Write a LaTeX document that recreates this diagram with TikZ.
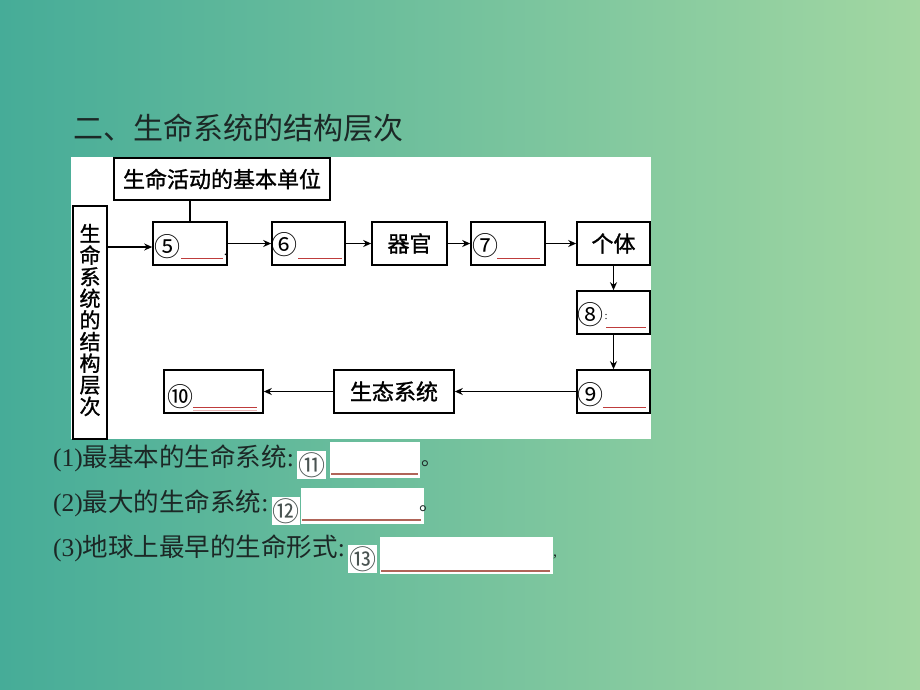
\documentclass[tikz,border=0pt]{standalone}
\usepackage{fontspec}
\newfontfamily\cjk{Noto Sans CJK SC}
\newfontfamily\cjkb{Noto Sans CJK SC}[FakeBold=1.2]
\newfontfamily\serifnum{Liberation Serif}
\usetikzlibrary{arrows.meta,calc}
\definecolor{bgleft}{RGB}{70,172,152}
\definecolor{bgright}{RGB}{162,215,162}
\definecolor{ink}{RGB}{28,40,38}
\definecolor{blankred}{RGB}{190,60,60}
\definecolor{blankbrown}{RGB}{176,100,88}
\tikzset{
  box/.style={draw=black, line width=1.6pt, fill=white, minimum height=43pt, inner sep=0pt,
    font=\cjkb\fontsize{22}{22}\selectfont},
  conn/.style={line width=1.9pt, -{Stealth[length=8pt,width=7pt]}},
  circnum/.style={anchor=west, inner sep=0pt, font=\cjk\fontsize{26}{26}\selectfont},
  uline/.style={blankred, line width=0.8pt},
  qtext/.style={anchor=west, inner sep=0pt, text=ink, font=\cjk\fontsize{25.5}{25.5}\selectfont},
  bline/.style={blankbrown, line width=1.2pt}
}
\begin{document}
\begin{tikzpicture}[x=1pt,y=-1pt]
\useasboundingbox (0,0) rectangle (920,689);
\shade[left color=bgleft, right color=bgright] (0,0) rectangle (920,689);
% title
\node[anchor=west, inner sep=0pt, text=ink, font=\cjk\fontsize{30}{30}\selectfont] (title) at (73,128) {二、生命系统的结构层次};
% white panel
\fill[white] (71,157) rectangle (651,439);
% boxes
\node[box, minimum width=216pt, minimum height=42pt] (unit) at (222,179) {生命活动的基本单位};
\node[box, minimum width=34pt, minimum height=233pt] (vert) at (90,322.5) {};
\node[align=center, inner sep=0pt, font=\cjkb\fontsize{21}{21.6}\selectfont] (verttext) at (90,320) {生\\命\\系\\统\\的\\结\\构\\层\\次};
\node[box, minimum width=74pt] (b5) at (190,243.5) {};
\node[box, minimum width=73pt] (b6) at (308.5,243.5) {};
\node[box, minimum width=75pt] (qg) at (409.5,243.5) {器官};
\node[box, minimum width=74pt] (b7) at (508,243.5) {};
\node[box, minimum width=73pt] (gt) at (613.5,243.5) {个体};
\node[box, minimum width=73pt] (b8) at (613.5,312.5) {};
\node[box, minimum width=73pt] (b9) at (613.5,391.5) {};
\node[box, minimum width=120pt] (st) at (394,391.5) {生态系统};
\node[box, minimum width=99pt] (b10) at (213.5,391.5) {};
% circled numbers
\node[circnum] (n5) at (154,247) {⑤};
\node[circnum] (n6) at (271,245) {⑥};
\node[circnum] (n7) at (472,246) {⑦};
\node[circnum] (n8) at (577,315) {⑧};
\node[circnum] (n9) at (577,395) {⑨};
\node[circnum] (n10) at (167,397) {⑩};
% blanks in boxes
\draw[uline] (181,258) -- (223,258);
\node[inner sep=0pt, font=\serifnum\fontsize{14}{14}\selectfont] (p5) at (225.5,255) {.};
\draw[uline] (298,258) -- (342,258);
\draw[uline] (497,258) -- (540,258);
\node[anchor=west, inner sep=0pt, font=\serifnum\fontsize{11}{11}\selectfont] (c8) at (604.5,317) {:};
\draw[uline] (606,327) -- (646,327);
\draw[uline] (603,407) -- (646,407);
\draw[uline] (193,407) -- (257,407);
\draw[blankred!40, line width=0.8pt] (193,410) -- (257,410);
% connectors
\draw[line width=1.6pt] (b5.north |- unit.south) -- (b5.north);
\draw[conn] (vert.east |- 0,247) -- (b5.west |- 0,247);
\draw[conn] (b5.east) -- (b6.west);
\draw[conn] (b6.east) -- (qg.west);
\draw[conn] (qg.east) -- (b7.west);
\draw[conn] (b7.east) -- (gt.west);
\draw[conn] (gt.south) -- (b8.north);
\draw[conn] (b8.south) -- (b9.north);
\draw[conn] (b9.west) -- (st.east);
\draw[conn] (st.west) -- (b10.east);
% questions
\node[qtext] (q1) at (53,458) {\serifnum(1)\cjk 最基本的生命系统\serifnum:};
\node[qtext] (q2) at (53,503) {\serifnum(2)\cjk 最大的生命系统\serifnum:};
\node[qtext] (q3) at (53,548) {\serifnum(3)\cjk 地球上最早的生命形式\serifnum:};
% answer blanks
\fill[white] (297,451) rectangle (326,479);
\node[inner sep=0pt, text=ink!80, font=\cjk\fontsize{27}{27}\selectfont] (n11) at (311.5,465) {⑪};
\fill[white] (330,442) rectangle (420,478);
\draw[bline] (331,474) -- (418,474);
\node[anchor=base west, inner sep=0pt, text=ink, font=\cjk\fontsize{20}{20}\selectfont] (e1) at (421,465) {。};
\fill[white] (272,497) rectangle (300,525);
\node[inner sep=0pt, text=ink!80, font=\cjk\fontsize{27}{27}\selectfont] (n12) at (286,511) {⑫};
\fill[white] (301,488) rectangle (424,524);
\draw[bline] (302,520) -- (421,520);
\node[anchor=base west, inner sep=0pt, text=ink, font=\cjk\fontsize{20}{20}\selectfont] (e2) at (419,510) {。};
\fill[white] (348,545) rectangle (377,573);
\node[inner sep=0pt, text=ink!80, font=\cjk\fontsize{27}{27}\selectfont] (n13) at (362.5,559) {⑬};
\fill[white] (380,537) rectangle (553,574);
\draw[bline] (381,571) -- (550,571);
\node[inner sep=0pt, text=ink, font=\serifnum\fontsize{16}{16}\selectfont] (e3) at (555,557) {,};
\end{tikzpicture}
\end{document}
